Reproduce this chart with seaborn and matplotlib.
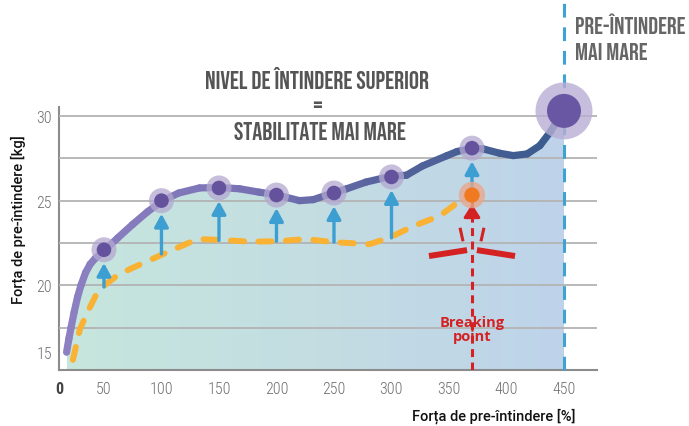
import numpy as np
import matplotlib
matplotlib.use('Agg')
import matplotlib.pyplot as plt
import seaborn as sns
from matplotlib.collections import LineCollection
from matplotlib.colors import LinearSegmentedColormap

# upper curve: pre-stretched film (purple)
upper_x = [17.5, 19.5, 21.5, 24, 27, 30, 34, 38, 42.5, 51, 62, 75, 88, 101, 115, 133, 150,
           168, 185, 201, 220, 232, 249, 261, 278, 300, 313, 327, 348, 357, 370, 380, 394,
           406, 418, 429, 438, 446, 450]
upper_y = [16.05, 16.85, 17.55, 18.4, 19.3, 20.0, 20.75, 21.25, 21.6, 22.1, 22.8, 23.6, 24.35,
           25.0, 25.45, 25.75, 25.78, 25.7, 25.5, 25.33, 25.0, 25.06, 25.45, 25.7, 26.1, 26.45,
           26.5, 27.05, 27.65, 27.9, 28.1, 28.05, 27.8, 27.66, 27.76, 28.25, 29.05, 29.94, 30.3]

# lower curve: standard stretch (orange dashed)
lower_x = [23, 29, 36.3, 43.6, 49.4, 60, 72.6, 87, 101.6, 124.8, 133.5, 153.5, 177, 200,
           226, 249, 281, 298.7, 319, 342, 359.6, 368]
lower_y = [15.6, 17.4, 18.5, 19.5, 19.95, 20.5, 20.96, 21.4, 21.85, 22.54, 22.73, 22.67,
           22.58, 22.6, 22.73, 22.55, 22.43, 22.83, 23.5, 24.1, 25.0, 25.33]

# highlighted points and arrows
point_x = [50, 100, 150, 200, 250, 300, 370]
point_y = [22.1, 25.0, 25.75, 25.33, 25.45, 26.4, 28.1]
arrow_from = [19.9, 21.85, 22.65, 22.6, 22.55, 22.8, 25.33]
end_x, end_y = 450, 30.3
break_x, break_y = 370, 25.33

xtick_vals = [50, 100, 150, 200, 250, 300, 350, 400, 450]
ytick_vals = [16.05, 20, 25, 30]
ytick_labels = ['15', '20', '25', '30']

sns.set_theme(style='white')
plt.rcParams['font.family'] = ['Roboto', 'DejaVu Sans']

head_font = ['Bebas Neue', 'Liberation Sans Narrow', 'DejaVu Sans']
tick_font = ['Roboto Condensed', 'Barlow Semi Condensed', 'Roboto', 'DejaVu Sans']
label_font = ['Roboto', 'DejaVu Sans']

xmin, xmax = 10.9, 478.7
ymin, ymax = 15.0, 30.53

fig = plt.figure(figsize=(6.89, 4.27), dpi=100)
ax = fig.add_axes([59 / 689, 56 / 427, 538 / 689, 263 / 427])

# gradient fill under the upper curve
poly = ax.fill_between(upper_x, upper_y, ymin, color='none', lw=0)
fill_cmap = LinearSegmentedColormap.from_list('fill', ['#c6e6dd', '#c3dde2', '#bed3ea'])
im = ax.imshow(np.linspace(0, 1, 256).reshape(1, -1), cmap=fill_cmap, aspect='auto',
               extent=[upper_x[0], upper_x[-1], ymin, max(upper_y)], origin='lower', zorder=1)
im.set_clip_path(poly.get_paths()[0], transform=ax.transData)

# grid lines every 2.5 kg
ax.yaxis.remove_overlapping_locs = False
ax.set_yticks(np.arange(17.5, 30.1, 2.5), minor=True)
ax.grid(True, which='minor', axis='y', color='#b3b3b3', lw=1.3)
ax.grid(False, which='major')
ax.set_axisbelow(False)

# orange dashed curve
sns.lineplot(x=lower_x, y=lower_y, ax=ax, color='#f9b233', lw=4.3, zorder=3)
ln = ax.lines[-1]
ln.set_dashes([2.2, 2.4])
ln.set_dash_capstyle('round')

# purple gradient curve
pts = np.column_stack([upper_x, upper_y]).reshape(-1, 1, 2)
segs = np.concatenate([pts[:-1], pts[1:]], axis=1)
line_cmap = LinearSegmentedColormap.from_list('ln', ['#8c80c2', '#7a73b5', '#52629a', '#385a8c'])
lc = LineCollection(segs, cmap=line_cmap, linewidths=5.2, capstyle='round', zorder=4)
lc.set_array(np.array(upper_x[:-1], dtype=float))
lc.set_clim(upper_x[0], upper_x[-1])
ax.add_collection(lc)

# blue arrows
for x, y0, y1 in zip(point_x, arrow_from, point_y):
    ax.annotate('', xy=(x, y1), xytext=(x, y0),
                arrowprops=dict(arrowstyle='-|>,head_length=0.55,head_width=0.3', color='#3d9fd1',
                                lw=2.4, shrinkA=0, shrinkB=9.5, mutation_scale=14), zorder=5)

# red breaking line
red = '#d42222'
ax.plot([break_x, break_x], [ymin, break_y], color=red, lw=2.2, dashes=[2.6, 1.8], zorder=3)
ax.annotate('', xy=(break_x, break_y), xytext=(break_x, break_y - 1.0),
            arrowprops=dict(arrowstyle='-|>,head_length=0.55,head_width=0.35', color=red,
                            lw=2.2, shrinkA=0, shrinkB=6.5, mutation_scale=14), zorder=5)
for s in (-1, 1):
    ax.plot([break_x + s * 37.4, break_x + s * 4.3], [break_y - 3.6, break_y - 3.25],
            color=red, lw=4.3, solid_capstyle='butt', zorder=5)
    ax.plot([break_x + s * 10.4, break_x + s * 7.8], [break_y - 1.93, break_y - 2.73],
            color=red, lw=2.2, solid_capstyle='butt', zorder=5)
ax.text(break_x, 17.42, 'Breaking\npoint', color=red, fontsize=10.5, fontweight='bold',
        family=['Open Sans', 'DejaVu Sans'], ha='center', va='center', linespacing=1.0, zorder=6)

# points
sns.scatterplot(x=point_x, y=point_y, ax=ax, s=18 ** 2, color='#b3a8d0', alpha=0.75,
                edgecolor='none', zorder=6, legend=False)
sns.scatterplot(x=point_x, y=point_y, ax=ax, s=10.5 ** 2, color='#65529d',
                edgecolor='none', zorder=7, legend=False)
ax.scatter([end_x], [end_y], s=41 ** 2, color='#b8aed4', alpha=0.8, edgecolor='none',
           zorder=6, clip_on=False)
ax.scatter([end_x], [end_y], s=24.5 ** 2, color='#6a57a3', edgecolor='none', zorder=7,
           clip_on=False)
ax.scatter([break_x], [break_y], s=19 ** 2, color='#e8a88c', alpha=0.8, edgecolor='none', zorder=8)
ax.scatter([break_x], [break_y], s=11 ** 2, color='#f07a22', edgecolor='none', zorder=9)

# blue dashed limit line
ax.axvline(end_x, ymin=0, ymax=371 / 263, color='#3ea2d3', lw=2.2, dashes=[4.5, 3.2],
           clip_on=False, zorder=5)

ax.set_xlim(xmin, xmax)
ax.set_ylim(ymin, ymax)
ax.set_xticks([xmin] + xtick_vals)
ax.set_xticklabels(['0'] + [str(v) for v in xtick_vals])
ax.set_yticks(ytick_vals)
ax.set_yticklabels(ytick_labels)
ax.tick_params(axis='both', which='both', length=0, labelsize=11.5, colors='#6f6f6f')
ax.tick_params(axis='x', pad=8)
ax.tick_params(axis='y', pad=5)
for lab in ax.get_xticklabels() + ax.get_yticklabels():
    lab.set_family(tick_font)
    lab.set_fontweight('light')
ax.get_xticklabels()[0].set_fontweight('bold')
ax.get_xticklabels()[0].set_color('#444444')

for side in ('top', 'right'):
    ax.spines[side].set_visible(False)
for side in ('left', 'bottom'):
    ax.spines[side].set_color('#8c8c8c')
    ax.spines[side].set_linewidth(1.5)

# axis titles
fig.text(575 / 689, 1 - 416 / 427, 'Forța de pre-întindere [%]', ha='right', va='center',
         fontsize=10.5, color='#111111', family=label_font, fontweight='medium')
fig.text(18 / 689, 1 - 220 / 427, 'Forța de pre-întindere [kg]', ha='center', va='center',
         rotation=90, fontsize=10.5, color='#111111', family=label_font, fontweight='medium')

# headline
head = dict(ha='center', va='center', fontsize=18, color='#555555', family=head_font)
fig.text(317 / 689, 1 - 78 / 427, 'NIVEL DE ÎNTINDERE SUPERIOR', **head)
fig.text(317 / 689, 1 - 105 / 427, '=', **head)
fig.text(320 / 689, 1 - 131 / 427, 'STABILITATE MAI MARE', **head)
side_txt = dict(head, ha='left', color='#666666', fontsize=17.5)
fig.text(575 / 689, 1 - 24 / 427, 'PRE-ÎNTINDERE', **side_txt)
fig.text(575 / 689, 1 - 51 / 427, 'MAI MARE', **side_txt)

fig.savefig('out.png', dpi=100)
